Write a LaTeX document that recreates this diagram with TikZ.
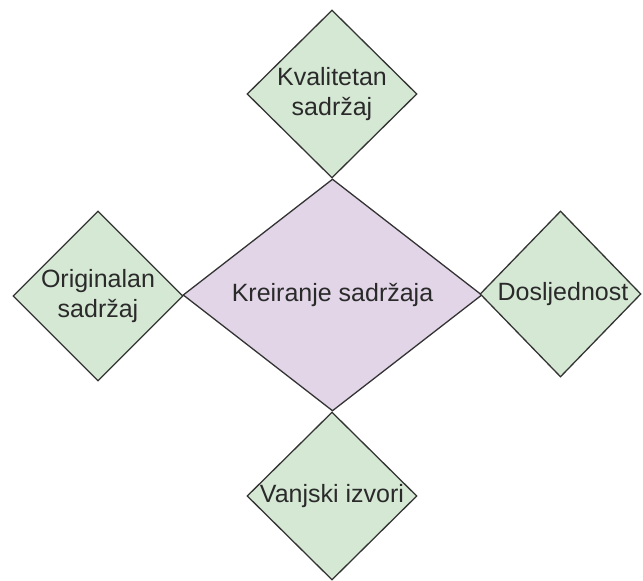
\documentclass[tikz,border=0pt]{standalone}
\usepackage{fontspec}
\setmainfont{Liberation Sans}
\usetikzlibrary{shapes.geometric}
\definecolor{gfill}{HTML}{D5E8D4}
\definecolor{pfill}{HTML}{E1D5E7}
\definecolor{edge}{HTML}{333333}
\definecolor{txt}{HTML}{2A2A2A}
\begin{document}
\begin{tikzpicture}[x=1pt,y=1pt,
  dia/.style={diamond, draw=edge, line width=1.3pt, inner sep=0pt, shape aspect=1},
  gd/.style={dia, fill=gfill},
  pd/.style={dia, fill=pfill},
  lbl/.style={text=txt, align=center, font=\fontsize{25}{30}\selectfont, inner sep=0pt}]
\useasboundingbox (0,0) rectangle (643,-581);
\node[pd, minimum width=299, minimum height=232] (c) at (332.5,-295) {};
\node[gd, minimum width=170, minimum height=168] (t) at (332,-94) {};
\node[gd, minimum width=170, minimum height=170] (l) at (98,-296) {};
\node[gd, minimum width=161, minimum height=166] (r) at (560.5,-294) {};
\node[gd, minimum width=170, minimum height=168] (b) at (332,-496) {};
\node[lbl] (ct) at (332.5,-295) {Kreiranje sadržaja};
\node[lbl] (tt) at (332,-94) {Kvalitetan\\sadržaj};
\node[lbl] (lt) at (98,-296) {Originalan\\sadržaj};
\node[lbl] (rt) at (563,-294) {Dosljednost};
\node[lbl] (bt) at (332,-496) {Vanjski izvori};
\end{tikzpicture}
\end{document}
